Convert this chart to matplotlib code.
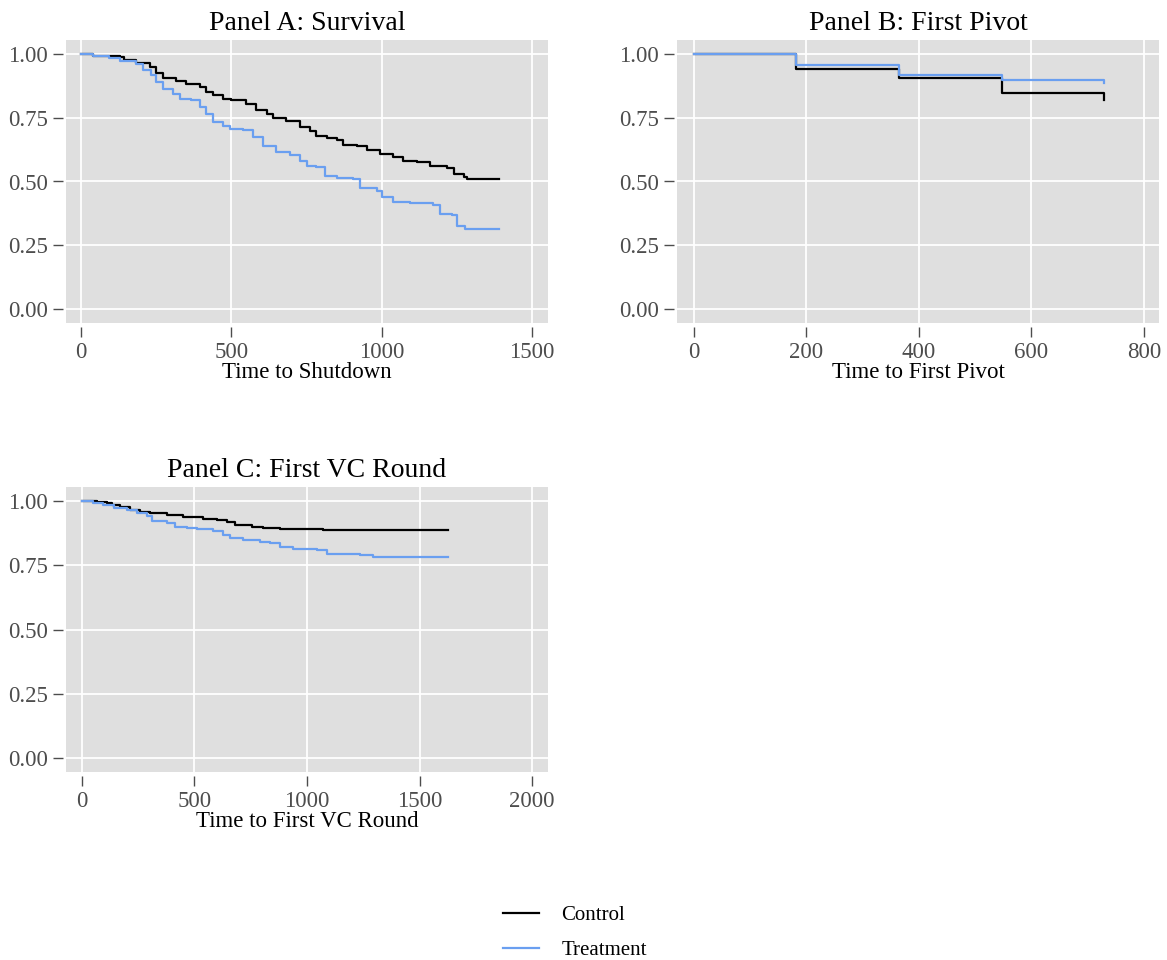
import numpy as np
import matplotlib
matplotlib.use('Agg')
import matplotlib.pyplot as plt

plt.rcParams['font.family'] = ['Liberation Serif', 'DejaVu Serif']

# Panel A: survival (time to shutdown)
a_ctrl_t = [0, 39, 128, 144, 183, 228, 250, 272, 317, 350, 394, 417, 439, 472, 500, 550,
            583, 617, 639, 683, 728, 761, 783, 817, 850, 872, 917, 950, 994, 1039, 1072,
            1117, 1161, 1217, 1239, 1272, 1283, 1389]
a_ctrl_s = [1.0, 0.992, 0.987, 0.976, 0.966, 0.950, 0.924, 0.904, 0.895, 0.884, 0.871, 0.851,
            0.838, 0.825, 0.818, 0.803, 0.779, 0.766, 0.750, 0.737, 0.713, 0.700, 0.678, 0.671,
            0.661, 0.645, 0.641, 0.624, 0.608, 0.597, 0.582, 0.575, 0.562, 0.551, 0.529, 0.516,
            0.511, 0.511]
a_trt_t = [0, 39, 94, 128, 183, 206, 233, 250, 272, 306, 328, 367, 394, 417, 439, 472, 494,
           539, 572, 606, 650, 694, 728, 750, 783, 811, 850, 906, 928, 983, 1000, 1039, 1094,
           1172, 1194, 1233, 1250, 1278, 1389]
a_trt_s = [1.0, 0.992, 0.983, 0.974, 0.961, 0.937, 0.917, 0.891, 0.861, 0.845, 0.825, 0.821,
           0.792, 0.766, 0.733, 0.716, 0.707, 0.703, 0.674, 0.641, 0.617, 0.605, 0.582, 0.562,
           0.555, 0.522, 0.513, 0.509, 0.476, 0.463, 0.439, 0.421, 0.414, 0.408, 0.374, 0.368,
           0.325, 0.314, 0.314]

# Panel B: first pivot
b_ctrl_t = [0, 182, 365, 547, 730]
b_ctrl_s = [1.0, 0.943, 0.904, 0.849, 0.821]
b_trt_t = [0, 182, 365, 547, 730]
b_trt_s = [1.0, 0.957, 0.917, 0.897, 0.888]

# Panel C: first VC round
c_ctrl_t = [0, 67, 111, 133, 170, 214, 259, 303, 377, 451, 540, 599, 643, 680, 754, 806,
            880, 1072, 1627]
c_ctrl_s = [1.0, 0.997, 0.993, 0.984, 0.976, 0.967, 0.958, 0.953, 0.947, 0.937, 0.932, 0.928,
            0.918, 0.908, 0.901, 0.897, 0.893, 0.889, 0.889]
c_trt_t = [0, 52, 96, 141, 200, 244, 288, 311, 377, 414, 466, 510, 584, 629, 658, 717, 791,
           836, 880, 939, 1043, 1087, 1235, 1294, 1627]
c_trt_s = [1.0, 0.993, 0.984, 0.974, 0.967, 0.954, 0.941, 0.924, 0.914, 0.901, 0.895, 0.891,
           0.882, 0.868, 0.858, 0.849, 0.842, 0.836, 0.822, 0.812, 0.809, 0.796, 0.789, 0.783,
           0.783]

panels = [
    ('Panel A: Survival', 'Time to Shutdown', a_ctrl_t, a_ctrl_s, a_trt_t, a_trt_s,
     [0, 500, 1000, 1500], (-50, 1553)),
    ('Panel B: First Pivot', 'Time to First Pivot', b_ctrl_t, b_ctrl_s, b_trt_t, b_trt_s,
     [0, 200, 400, 600, 800], (-30, 827)),
    ('Panel C: First VC Round', 'Time to First VC Round', c_ctrl_t, c_ctrl_s, c_trt_t, c_trt_s,
     [0, 500, 1000, 1500, 2000], (-70, 2070)),
]

W, H = 1167, 960
fig = plt.figure(figsize=(W / 100, H / 100), dpi=100)
boxes = [(66, 40, 482, 283), (677, 40, 482, 283), (66, 487, 482, 285)]

ctrl_col = 'black'
trt_col = '#6a9ff0'

for (title, xlab, ct, cs, tt, ts, xt, xl), (x0, y0, w, h) in zip(panels, boxes):
    ax = fig.add_axes([x0 / W, 1 - (y0 + h) / H, w / W, h / H])
    ax.set_facecolor('#dfdfdf')
    ax.step(ct, cs, where='post', color=ctrl_col, lw=1.6, label='Control', zorder=3)
    ax.step(tt, ts, where='post', color=trt_col, lw=1.6, label='Treatment', zorder=3)
    ax.set_xlim(*xl)
    ax.set_ylim(-0.055, 1.055)
    ax.set_xticks(xt)
    ax.set_yticks([0, 0.25, 0.5, 0.75, 1.0])
    ax.set_yticklabels(['0.00', '0.25', '0.50', '0.75', '1.00'])
    ax.grid(True, color='white', lw=1.3)
    ax.set_axisbelow(True)
    for s in ax.spines.values():
        s.set_visible(False)
    ax.spines['bottom'].set_position(('outward', 3))
    ax.spines['left'].set_position(('outward', 2))
    ax.tick_params(colors='#4d4d4d', labelsize=16.5, length=7, width=1, pad=4)
    ax.set_title(title, fontsize=20, pad=7)
    ax.set_xlabel(xlab, fontsize=16.5, labelpad=-1)

handles, labels = fig.axes[0].get_legend_handles_labels()
fig.legend(handles, labels, loc='center', bbox_to_anchor=(575 / W, 1 - 933 / H),
           frameon=False, fontsize=15, handlelength=1.7, labelspacing=0.75, handletextpad=1.1)

fig.savefig('out.png', dpi=100)
